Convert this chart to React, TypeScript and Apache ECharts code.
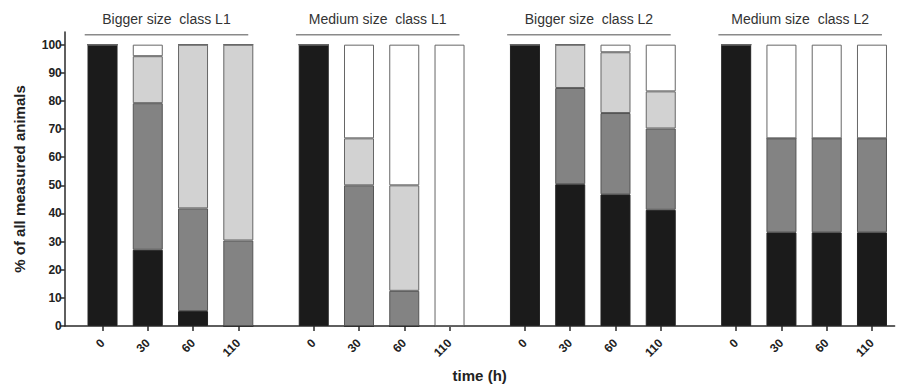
import React, { useEffect, useRef } from 'react';
import * as echarts from 'echarts';

const groupNames = [
  'Bigger size  class L1',
  'Medium size  class L1',
  'Bigger size  class L2',
  'Medium size  class L2',
];
const timeLabels = ['0', '30', '60', '110'];
// category slot index of every bar (4 groups x 4 time points), out of slotCount slots
const slotCount = 55;
const positions = [2, 5, 8, 11, 16, 19, 22, 25, 30, 33, 36, 39, 44, 47, 50, 53];
const blackShare = [100, 27.1, 5.3, 0, 100, 0, 0, 0, 100, 50.4, 46.8, 41.3, 100, 33.3, 33.3, 33.3];
const darkShare = [0, 52.1, 36.5, 30.4, 0, 50, 12.5, 0, 0, 34.2, 28.9, 28.9, 0, 33.4, 33.4, 33.4];
const lightShare = [0, 16.7, 58.2, 69.6, 0, 16.7, 37.5, 0, 0, 15.4, 21.6, 13.2, 0, 0, 0, 0];
const whiteShare = [0, 4.1, 0, 0, 0, 33.3, 50, 100, 0, 0, 2.7, 16.6, 0, 33.3, 33.3, 33.3];
const yTicks = [0, 10, 20, 30, 40, 50, 60, 70, 80, 90, 100];

const FONT = 'Arial, "Liberation Sans", Helvetica, sans-serif';

export default function App() {
  const ref = useRef<HTMLDivElement>(null);

  useEffect(() => {
    const chart = echarts.init(ref.current as HTMLDivElement, null, { renderer: 'svg' });

    const categories: string[] = [];
    for (let i = 0; i < slotCount; i++) {
      const idx = positions.indexOf(i);
      categories.push(idx >= 0 ? timeLabels[idx % 4] : '');
    }
    const spread = (values: number[]) => {
      const out: (number | string)[] = categories.map(() => '-');
      positions.forEach((p, i) => {
        out[p] = values[i];
      });
      return out;
    };

    const mk = (name: string, values: number[], color: string, border: string) => ({
      name,
      type: 'bar',
      stack: 'total',
      barWidth: 30,
      data: spread(values),
      itemStyle: { color, borderColor: border, borderWidth: 1 },
      emphasis: { disabled: true },
    });

    const isBarSlot = (i: number) => positions.indexOf(i) >= 0;

    chart.setOption({
      animation: false,
      grid: { left: 64.8, right: 5.4, top: 32, bottom: 58, containLabel: false },
      xAxis: {
        type: 'category',
        data: categories,
        axisLine: { show: true, onZero: false, lineStyle: { color: '#2a2a2a', width: 1.5 } },
        axisTick: {
          show: true,
          alignWithLabel: true,
          interval: (i: number) => isBarSlot(i),
          length: 5,
          lineStyle: { color: '#2a2a2a', width: 1.5 },
        },
        axisLabel: {
          interval: (i: number) => isBarSlot(i),
          rotate: 45,
          margin: 15,
          fontFamily: FONT,
          fontWeight: 'bold',
          fontSize: 12,
          color: '#222',
        },
        name: 'time (h)',
        nameLocation: 'middle',
        nameGap: 42,
        nameTextStyle: { fontFamily: FONT, fontWeight: 'bold', fontSize: 15, color: '#222' },
      },
      yAxis: {
        type: 'value',
        min: 0,
        max: 104.5,
        splitLine: { show: false },
        axisLine: { show: true, onZero: false, lineStyle: { color: '#2a2a2a', width: 1.5 } },
        axisTick: { show: true, customValues: yTicks, length: 5, lineStyle: { color: '#2a2a2a', width: 1.5 } },
        axisLabel: {
          customValues: yTicks,
          margin: 3,
          fontFamily: FONT,
          fontWeight: 'bold',
          fontSize: 12,
          color: '#222',
        },
        name: '% of all measured animals',
        nameLocation: 'middle',
        nameGap: 38,
        nameTextStyle: { fontFamily: FONT, fontWeight: 'bold', fontSize: 15, color: '#222' },
      },
      series: [
        mk('black', blackShare, '#1b1b1b', '#222222'),
        mk('dark grey', darkShare, '#838383', '#555555'),
        mk('light grey', lightShare, '#d2d2d2', '#666666'),
        mk('white', whiteShare, '#ffffff', '#666666'),
      ],
    });

    const gfx: any[] = [];
    groupNames.forEach((g, gi) => {
      const first = positions[gi * 4];
      const last = positions[gi * 4 + 3];
      const pa = chart.convertToPixel({ gridIndex: 0 }, [first, 103.5]) as number[];
      const pb = chart.convertToPixel({ gridIndex: 0 }, [first + 1, 103.5]) as number[];
      const pl = chart.convertToPixel({ gridIndex: 0 }, [last, 103.5]) as number[];
      const pt = chart.convertToPixel({ gridIndex: 0 }, [first, 109.2]) as number[];
      const w = pb[0] - pa[0];
      const x1 = pa[0] - 1.18 * w;
      const x2 = pl[0] + 0.66 * w;
      gfx.push({
        type: 'line',
        shape: { x1, y1: pa[1], x2, y2: pa[1] },
        style: { stroke: '#8a8a8a', lineWidth: 1.5 },
        silent: true,
      });
      gfx.push({
        type: 'text',
        x: (x1 + x2) / 2,
        y: pt[1],
        style: {
          text: g,
          fontFamily: FONT,
          fontSize: 14,
          fill: '#333',
          align: 'center',
          verticalAlign: 'middle',
          textAlign: 'center',
          textVerticalAlign: 'middle',
        },
        silent: true,
      });
    });
    chart.setOption({ graphic: gfx });

    return () => chart.dispose();
  }, []);

  return (
    <div
      ref={ref}
      style={{ position: 'fixed', left: 0, top: 0, width: 900, height: 388, background: '#fff' }}
    />
  );
}
